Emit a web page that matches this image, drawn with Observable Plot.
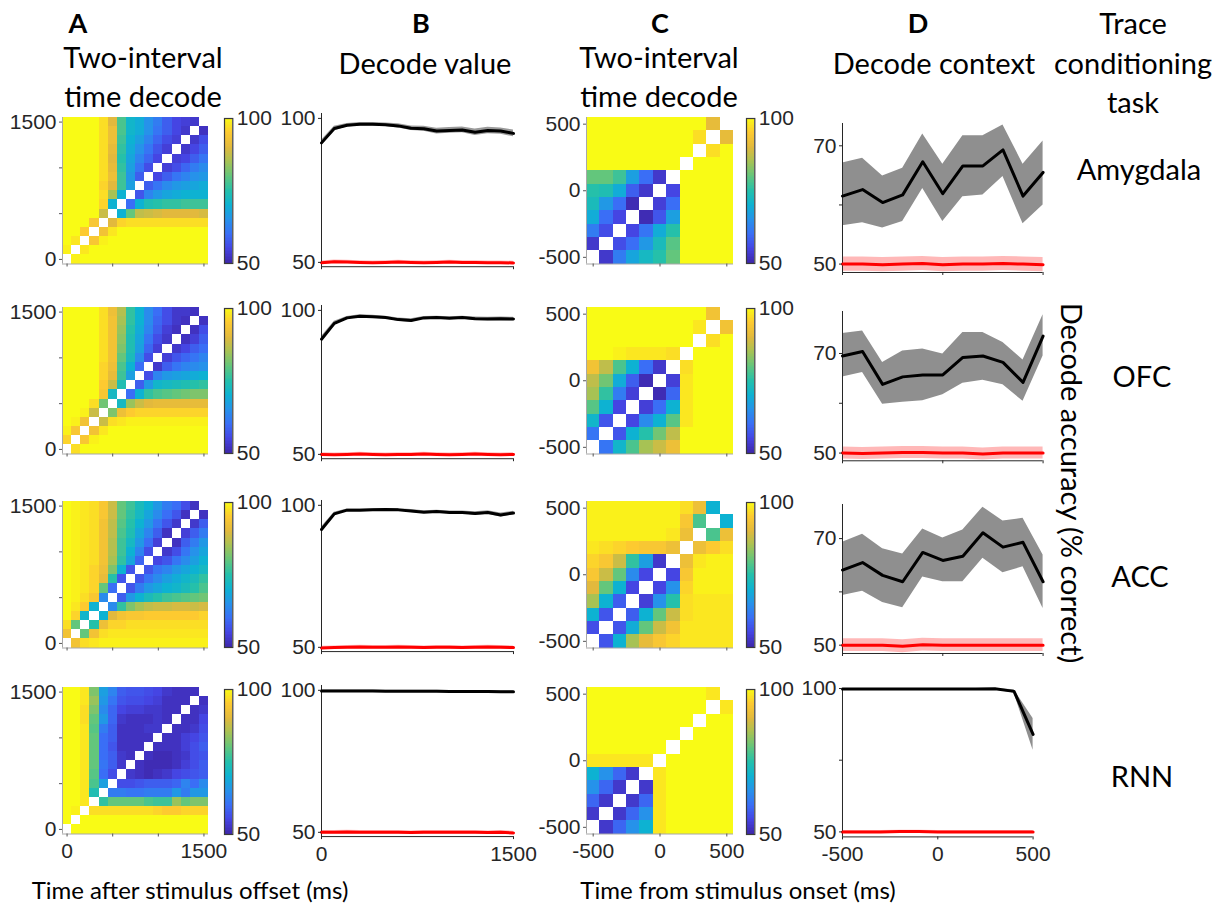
<!DOCTYPE html>
<html>
<head>
<meta charset="utf-8">
<script src="https://cdn.jsdelivr.net/npm/d3@7"></script>
<script src="https://cdn.jsdelivr.net/npm/@observablehq/plot@0.6"></script>
<style>
  html, body { margin: 0; padding: 0; background: #fff; }
  #fig { position: relative; width: 1225px; height: 907px; overflow: hidden; background: #fff; }
  .txt { position: absolute; white-space: nowrap; font-family: Lato, "Open Sans", sans-serif; font-size: 29px; color: #000; transform: translate(-50%, -50%); line-height: 1; }
  .letter { font-weight: bold; font-size: 27px; }
  .small { font-size: 24px; }
  .vert { transform: translate(-50%, -50%) rotate(90deg); }
</style>
</head>
<body>
<div id="fig"></div>
<script>
// ---------------------------------------------------------------- data
const regions = ["Amygdala", "OFC", "ACC", "RNN"];

// time bins (ms)
const timeOffset = [0, 100, 200, 300, 400, 500, 600, 700, 800, 900, 1000, 1100, 1200, 1300, 1400, 1500];
const timeOnset = [-500, -400, -300, -200, -100, 0, 100, 200, 300, 400, 500];

// Two-interval decoding after stimulus offset (% correct); rows run from 1500 ms (top) to 0 ms (bottom),
// columns from 0 ms to 1500 ms; null marks the diagonal (same interval).
const offsetAmygdala = [
  [100,100,100,100,97,90,78,71,69,65,62,58,55,54,53,null],
  [100,100,100,100,97,92,78,71,69,65,61,58,55,53,null,52],
  [100,100,100,100,97,92,77,70,67,63,59,56,54,null,53,56],
  [100,100,100,100,97,91,76,69,65,61,57,54,null,53,55,58],
  [100,100,100,100,97,90,75,68,63,59,55,null,54,55,58,61],
  [100,100,100,100,97,91,76,67,61,56,null,54,56,59,62,64],
  [100,100,100,100,97,92,77,66,58,null,55,58,61,63,65,66],
  [100,100,100,100,96,90,77,67,null,58,61,64,66,67,68,69],
  [100,100,100,100,97,85,70,null,57,63,66,68,69,70,70,70],
  [100,100,100,100,96,70,null,60,70,74,75,76,76,77,77,77],
  [100,100,100,100,88,null,70,80,87,88,89,90,90,90,90,89],
  [100,100,100,94,null,90,96,97,97,97,97,97,97,97,97,97],
  [100,100,95,null,93,98,100,100,100,100,100,100,100,100,100,100],
  [100,98,null,94,99,100,100,100,100,100,100,100,100,100,100,100],
  [99,null,98,100,100,100,100,100,100,100,100,100,100,100,100,100],
  [null,99,100,100,100,100,100,100,100,100,100,100,100,100,100,100]
];
const offsetOFC = [
  [100,100,100,100,97,92,86,76,70,64,60,56,53,53,52,null],
  [100,100,100,100,97,93,85,76,70,64,59,56,53,52,null,52],
  [100,100,100,100,97,93,84,75,69,63,58,54,52,null,52,56],
  [100,100,100,100,97,93,83,74,68,61,56,53,null,52,54,58],
  [100,100,100,100,97,93,82,74,67,59,54,null,53,55,58,60],
  [100,100,100,100,97,93,80,73,64,56,null,54,57,59,61,63],
  [100,100,100,100,96,92,78,70,60,null,53,58,61,63,64,65],
  [100,100,100,100,96,91,77,67,null,56,63,66,67,68,69,70],
  [100,100,100,100,95,88,74,null,58,66,71,72,73,74,75,76],
  [100,100,100,100,94,72,null,60,70,76,78,79,80,81,82,82],
  [100,100,100,97,81,null,72,84,88,90,91,91,91,91,91,91],
  [100,100,99,88,null,82,92,95,96,96,96,96,96,96,96,96],
  [100,99,93,null,88,97,98,99,99,99,99,99,99,99,99,99],
  [99,94,null,93,98,100,100,100,100,100,100,100,100,100,100,100],
  [96,null,94,99,100,100,100,100,100,100,100,100,100,100,100,100],
  [null,97,100,100,100,100,100,100,100,100,100,100,100,100,100,100]
];
const offsetACC = [
  [100,99,98,97,94,88,80,77,73,70,66,62,60,56,52,null],
  [100,99,98,97,94,88,80,76,72,68,64,60,57,52,null,52],
  [100,99,98,97,93,87,79,75,70,66,61,57,53,null,53,58],
  [100,99,98,97,93,87,78,74,68,63,58,52,null,54,58,62],
  [100,99,98,97,93,86,77,72,66,60,54,null,52,58,62,66],
  [100,99,98,97,93,86,77,70,63,56,null,53,56,61,65,68],
  [100,99,98,97,93,85,76,68,59,null,55,57,61,64,67,70],
  [100,99,98,96,92,82,70,57,null,57,61,63,66,68,70,72],
  [100,99,98,96,91,75,57,null,57,61,64,67,69,71,73,76],
  [100,99,98,96,80,60,null,57,62,66,68,70,71,73,75,78],
  [100,99,97,94,64,null,58,66,70,73,75,77,78,79,80,81],
  [100,98,95,70,null,64,76,82,85,87,88,88,89,89,88,89],
  [100,96,71,null,70,90,93,94,94,95,95,95,95,95,95,96],
  [97,80,null,75,92,96,96,97,97,97,97,97,97,97,97,97],
  [93,null,80,93,97,98,98,98,98,98,98,98,98,98,98,98],
  [null,93,97,98,99,99,99,99,99,99,99,99,99,99,99,99]
];
const offsetRNN = [
  [100,100,98,82,67,63,58,57,57,56,55,53,52,52,52,null],
  [100,100,98,84,66,61,57,56,56,55,54,52,52,52,null,52],
  [100,100,97,82,64,59,55,54,54,53,53,52,52,null,52,53],
  [100,100,97,80,66,59,53,52,52,52,53,52,null,52,52,55],
  [100,100,98,79,62,58,52,52,52,53,53,null,52,52,53,56],
  [100,100,98,80,60,58,52,52,52,52,null,52,52,54,55,57],
  [100,100,98,80,60,57,52,52,52,null,52,52,52,54,56,58],
  [100,100,98,80,60,58,53,52,null,52,51,51,52,53,56,57],
  [100,100,98,80,61,58,53,null,52,51,51,51,52,54,56,58],
  [100,100,98,79,60,56,null,53,52,51,52,53,55,56,57,58],
  [100,100,98,78,67,null,56,56,57,58,58,58,59,63,60,64],
  [100,100,98,74,null,62,62,61,61,62,62,62,66,62,66,66],
  [100,100,98,null,76,80,80,80,80,78,77,77,84,80,82,82],
  [100,99,null,97,97,97,97,97,97,97,96,95,95,96,96,96],
  [100,null,100,100,100,100,100,100,100,100,100,100,100,100,100,100],
  [null,100,100,100,100,100,100,100,100,100,100,100,100,100,100,100]
];

// Two-interval decoding around stimulus onset; rows from 500 ms (top) to -500 ms (bottom).
const onsetAmygdala = [
  [100,100,100,100,100,100,100,100,100,91,null],
  [100,100,100,100,100,100,100,100,97,null,91],
  [100,100,100,100,100,100,100,100,null,97,100],
  [100,100,100,100,100,100,100,null,100,100,100],
  [80,80,77,67,60,53,null,100,100,100,100],
  [75,74,69,58,53,null,55,100,100,100,100],
  [73,66,60,51,null,54,60,100,100,100,100],
  [69,60,55,null,51,57,67,100,100,100,100],
  [62,56,null,55,61,69,75,100,100,100,100],
  [53,null,56,60,66,73,79,100,100,100,100],
  [null,53,62,68,72,75,80,100,100,100,100]
];
const onsetOFC = [
  [100,100,100,100,100,100,100,100,100,93,null],
  [100,100,100,100,100,100,100,100,98,null,93],
  [100,100,100,100,100,100,100,100,null,97,100],
  [100,100,99,98,98,98,97,null,100,100,100],
  [93,87,78,70,60,53,null,97,100,100,100],
  [87,81,69,58,51,null,54,98,100,100,100],
  [85,76,62,54,null,51,59,98,100,100,100],
  [79,70,55,null,54,60,70,98,100,100,100],
  [71,57,null,55,64,70,79,98,100,100,100],
  [61,null,57,70,75,81,87,100,100,100,100],
  [null,61,71,78,85,88,92,100,100,100,100]
];
const onsetACC = [
  [99,99,99,99,99,99,99,97,92,70,null],
  [99,99,99,99,99,99,99,94,78,null,70],
  [99,99,99,99,99,99,98,92,null,78,92],
  [98,97,96,95,94,94,92,null,92,95,97],
  [96,94,88,76,67,53,null,92,98,99,99],
  [94,88,80,64,55,null,55,94,99,99,99],
  [90,80,70,55,null,55,65,96,99,99,99],
  [85,70,58,null,54,65,75,97,98,98,98],
  [70,57,null,58,70,80,88,97,98,98,98],
  [56,null,57,69,80,88,93,98,98,98,98],
  [null,57,70,85,91,94,96,98,98,98,98]
];
const onsetRNN = [
  [100,100,100,100,100,100,100,100,100,98,null],
  [100,100,100,100,100,100,100,100,100,null,98],
  [100,100,100,100,100,100,100,100,null,100,100],
  [100,100,100,100,100,100,100,null,100,100,100],
  [100,100,100,100,100,100,null,100,100,100,100],
  [98,98,98,98,98,null,100,100,100,100,100],
  [70,65,59,53,null,98,100,100,100,100,100],
  [65,59,53,null,53,98,100,100,100,100,100],
  [59,53,null,53,59,98,100,100,100,100,100],
  [53,null,53,59,65,98,100,100,100,100,100],
  [null,53,59,65,70,98,100,100,100,100,100]
];

// Value decoding after stimulus offset: mean, s.e.m. and shuffled (chance) level
const valueMeanAmygdala = [91.5, 96.5, 97.6, 98.0, 98.0, 97.8, 97.4, 96.6, 96.4, 95.6, 95.8, 96.0, 95.2, 95.8, 95.6, 94.8];
const valueSemAmygdala  = [0.9, 0.8, 0.6, 0.6, 0.6, 0.6, 0.7, 0.8, 0.9, 1.0, 1.0, 1.0, 1.1, 1.1, 1.1, 1.2];
const valueChanceAmygdala = [49.9, 50.2, 50.1, 50.0, 49.9, 50.0, 50.1, 50.0, 49.9, 50.0, 50.1, 50.0, 50.0, 49.9, 49.9, 49.8];
const valueMeanOFC = [90.0, 95.5, 97.4, 98.0, 97.8, 97.5, 96.8, 96.5, 97.4, 97.5, 97.3, 97.5, 97.1, 97.0, 97.1, 97.0];
const valueSemOFC  = [0.9, 0.7, 0.5, 0.5, 0.5, 0.5, 0.6, 0.6, 0.5, 0.5, 0.5, 0.5, 0.6, 0.6, 0.6, 0.6];
const valueChanceOFC = [50.0, 49.9, 50.0, 50.1, 50.0, 49.9, 50.0, 50.0, 50.1, 50.0, 49.9, 50.0, 50.1, 50.0, 49.9, 50.0];
const valueMeanACC = [91.5, 97.0, 98.3, 98.3, 98.4, 98.5, 98.4, 98.0, 97.6, 97.8, 97.5, 97.5, 97.1, 97.5, 96.6, 97.3];
const valueSemACC  = [0.9, 0.6, 0.4, 0.4, 0.4, 0.4, 0.4, 0.5, 0.5, 0.5, 0.5, 0.5, 0.6, 0.6, 0.7, 0.6];
const valueChanceACC = [49.8, 49.9, 50.0, 50.1, 50.0, 50.0, 50.1, 50.0, 49.9, 50.0, 50.0, 49.9, 50.0, 50.1, 50.0, 49.9];
const valueMeanRNN = [99.8, 99.8, 99.8, 99.8, 99.8, 99.7, 99.7, 99.7, 99.7, 99.7, 99.6, 99.6, 99.6, 99.6, 99.5, 99.5];
const valueSemRNN  = [0.3, 0.3, 0.3, 0.3, 0.3, 0.3, 0.3, 0.3, 0.3, 0.3, 0.3, 0.3, 0.3, 0.3, 0.3, 0.3];
const valueChanceRNN = [50.0, 50.0, 50.1, 50.0, 50.0, 50.0, 50.0, 49.9, 50.0, 50.0, 50.0, 50.0, 50.0, 49.9, 50.0, 49.8];

// Context decoding around stimulus onset: mean with lower/upper band and chance level
const contextMeanAmygdala = [61.5, 62.6, 60.4, 61.7, 67.3, 61.9, 66.6, 66.6, 69.3, 61.5, 65.5];
const contextLowAmygdala  = [56.5, 57.0, 56.1, 57.2, 62.8, 57.2, 61.4, 61.7, 64.8, 56.8, 60.0];
const contextHighAmygdala = [67.1, 67.9, 64.9, 66.2, 72.0, 66.9, 71.7, 71.7, 73.5, 66.9, 70.8];
const contextChanceAmygdala = [50.0, 50.0, 49.9, 50.0, 50.1, 49.9, 50.0, 50.0, 50.1, 50.0, 49.9];
const contextMeanOFC = [69.5, 70.4, 63.8, 65.3, 65.7, 65.7, 69.2, 69.5, 68.2, 64.2, 73.5];
const contextLowOFC  = [65.3, 66.2, 59.8, 60.2, 60.5, 61.7, 64.0, 64.6, 63.7, 60.4, 69.5];
const contextHighOFC = [74.0, 74.5, 68.2, 70.5, 70.9, 69.9, 74.2, 74.2, 72.2, 68.7, 77.8];
const contextChanceOFC = [50.0, 49.9, 50.0, 50.1, 50.1, 50.0, 50.0, 49.8, 50.0, 50.0, 50.0];
const contextMeanACC = [64.1, 65.5, 63.1, 61.9, 67.4, 65.9, 66.7, 71.1, 68.4, 69.3, 61.9];
const contextLowACC  = [59.3, 60.1, 58.0, 57.0, 62.8, 61.9, 61.9, 66.3, 63.6, 64.7, 56.9];
const contextHighACC = [69.3, 70.8, 68.1, 67.1, 71.8, 70.1, 71.6, 75.9, 73.3, 73.8, 66.9];
const contextChanceACC = [50.0, 50.0, 50.0, 49.8, 50.1, 50.0, 50.0, 50.0, 50.0, 50.0, 50.0];
const contextMeanRNN = [99.8, 99.8, 99.8, 99.8, 99.8, 99.8, 99.8, 99.8, 99.9, 99.0, 84.0];
const contextLowRNN  = [99.4, 99.4, 99.4, 99.4, 99.4, 99.4, 99.4, 99.4, 99.5, 98.4, 78.5];
const contextHighRNN = [100, 100, 100, 100, 100, 100, 100, 100, 100, 99.6, 89.5];
const contextChanceRNN = [50.0, 50.0, 50.0, 50.1, 50.1, 50.0, 50.0, 50.0, 50.0, 50.0, 50.0];

// ---------------------------------------------------------------- drawing helpers
const fig = document.getElementById("fig");
const tickFont = "'Liberation Sans', Arial, sans-serif";
const tickColor = "#262626";
// parula-like colour map, evenly spaced stops from 50 % to 100 %
const parula = d3.piecewise(d3.interpolateRgb,
  ["#3e26a8", "#4545e3", "#3a6ef6", "#2692ea", "#0db2d2", "#25c0aa",
   "#63c67c", "#a7c254", "#e2b93d", "#fdca30", "#f9fb15"]);
const colorScale = {type: "linear", domain: [50, 100], interpolate: parula, clamp: true};
const baseStyle = {background: "transparent", overflow: "visible", fontFamily: tickFont, fontSize: "21px", color: tickColor};
const fmt = (labels) => (d) => labels.includes(d) ? String(d) : "";

function mount(node, left, top) {
  node.style.position = "absolute";
  node.style.left = left + "px";
  node.style.top = top + "px";
  node.style.maxWidth = "none";
  fig.appendChild(node);
}

function heatmap(matrix, times, step, box, yLabels, xLabels) {
  const n = times.length, h = step / 2;
  const cells = [];
  matrix.forEach((row, i) => row.forEach((v, j) => {
    if (v != null) cells.push({tx: times[j], ty: times[n - 1 - i], v});
  }));
  const m = {l: 70, r: 10, t: 10, b: 40};
  const lo = times[0] - h, hi = times[n - 1] + h;
  const svg = Plot.plot({
    width: box.w + m.l + m.r, height: box.h + m.t + m.b,
    marginLeft: m.l, marginRight: m.r, marginTop: m.t, marginBottom: m.b,
    style: baseStyle,
    x: {domain: [lo, hi]},
    y: {domain: [lo, hi]},
    color: colorScale,
    marks: [
      Plot.rect(cells, {x1: d => d.tx - h, x2: d => d.tx + h, y1: d => d.ty - h, y2: d => d.ty + h,
        fill: "v", shapeRendering: "crispEdges"}),
      Plot.ruleX([lo], {stroke: "#a8a8a8", strokeWidth: 1}),
      Plot.ruleY([lo], {stroke: "#a8a8a8", strokeWidth: 1}),
      Plot.axisY({ticks: box.yTicks, tickFormat: fmt(yLabels), tickSize: 3, tickPadding: 3, label: null, stroke: "#555"}),
      Plot.axisX({ticks: box.xTicks, tickFormat: fmt(xLabels), tickSize: 3, tickPadding: 6, label: null, stroke: "#555"})
    ]
  });
  mount(svg, box.x - m.l, box.y - m.t);
}

function colorbar(box) {
  const m = {l: 2, r: 50, t: 10, b: 10};
  const samples = d3.range(50, 100, 0.5);
  const svg = Plot.plot({
    width: box.w + m.l + m.r, height: box.h + m.t + m.b,
    marginLeft: m.l, marginRight: m.r, marginTop: m.t, marginBottom: m.b,
    style: baseStyle,
    x: {domain: [0, 1], axis: null},
    y: {domain: [50, 100]},
    color: colorScale,
    marks: [
      Plot.rect(samples, {x1: () => 0, x2: () => 1, y1: d => d, y2: d => d + 0.5, fill: d => d + 0.25, shapeRendering: "crispEdges"}),
      Plot.frame({stroke: "#3a3a3a", strokeWidth: 1.2}),
      Plot.axisY({anchor: "right", ticks: [50, 100], tickFormat: d => String(d), tickSize: 0, tickPadding: 4, label: null})
    ]
  });
  mount(svg, box.x - m.l, box.y - m.t);
}

function tracePanel(rows, box, opts) {
  const m = {l: 70, r: 10, t: 10, b: 40};
  const svg = Plot.plot({
    width: box.w + m.l + m.r, height: box.h + m.t + m.b,
    marginLeft: m.l, marginRight: m.r, marginTop: m.t, marginBottom: m.b,
    style: baseStyle,
    x: {domain: opts.xDomain},
    y: {domain: opts.yDomain},
    marks: [
      Plot.areaY(rows, {x: "t", y1: "lo", y2: "hi", fill: opts.bandFill}),
      Plot.areaY(rows, {x: "t", y1: d => d.chance - opts.chanceBand, y2: d => d.chance + opts.chanceBand, fill: "#ff0000", fillOpacity: 0.28}),
      Plot.ruleX([opts.xDomain[0]], {stroke: tickColor, strokeWidth: 1}),
      Plot.ruleY([opts.yDomain[0]], {stroke: tickColor, strokeWidth: 1}),
      Plot.line(rows, {x: "t", y: "chance", stroke: "#ff0000", strokeWidth: 3}),
      Plot.line(rows, {x: "t", y: "mean", stroke: "#000", strokeWidth: opts.lineWidth}),
      Plot.axisY({ticks: opts.yTicks, tickFormat: fmt(opts.yLabels), tickSize: 3, tickPadding: 3, label: null}),
      Plot.axisX({ticks: opts.xTicks, tickFormat: fmt(opts.xLabels), tickSize: 3, tickPadding: 6, label: null})
    ]
  });
  mount(svg, box.x - m.l, box.y - m.t);
}

// ---------------------------------------------------------------- layout
const heatTops = [116.7, 306.7, 500.5, 687];
const offsetSets = [offsetAmygdala, offsetOFC, offsetACC, offsetRNN];
const onsetSets = [onsetAmygdala, onsetOFC, onsetACC, onsetRNN];

heatTops.forEach((top, r) => {
  const last = r === 3;
  heatmap(offsetSets[r], timeOffset, 100,
    {x: 62, y: top, w: 146, h: 146.5, yTicks: [0, 500, 1000, 1500], xTicks: [0, 500, 1000, 1500]},
    [0, 1500], last ? [0, 1500] : []);
  colorbar({x: 224, y: top + 1.5, w: 8.3, h: 145});
  heatmap(onsetSets[r], timeOnset, 100,
    {x: 585.7, y: top, w: 147, h: 146.5, yTicks: [-500, 0, 500], xTicks: [-500, 0, 500]},
    [-500, 0, 500], last ? [-500, 0, 500] : []);
  colorbar({x: 745.7, y: top + 1.5, w: 8.3, h: 145});
});

// value decoding traces
const valueSets = [
  [valueMeanAmygdala, valueSemAmygdala, valueChanceAmygdala],
  [valueMeanOFC, valueSemOFC, valueChanceOFC],
  [valueMeanACC, valueSemACC, valueChanceACC],
  [valueMeanRNN, valueSemRNN, valueChanceRNN]
];
const valueBoxes = [
  {top100: 118, bottom50: 262},
  {top100: 310, bottom50: 454},
  {top100: 505, bottom50: 647},
  {top100: 690, bottom50: 832}
];
valueSets.forEach(([mean, sem, chance], r) => {
  const b = valueBoxes[r];
  const ppu = (b.bottom50 - b.top100) / 50;
  const yMin = 48.5, yMax = 101.7;
  const rows = timeOffset.map((t, i) => ({t, mean: mean[i], lo: mean[i] - sem[i], hi: Math.min(100.4, mean[i] + sem[i]), chance: chance[i]}));
  tracePanel(rows,
    {x: 321, y: b.top100 - (yMax - 100) * ppu, w: 192, h: (yMax - yMin) * ppu},
    {xDomain: [0, 1500], yDomain: [yMin, yMax], bandFill: "#9a9a9a", chanceBand: 0.6, lineWidth: 3,
     yTicks: [50, 100], yLabels: [50, 100], xTicks: [0, 1500], xLabels: r === 3 ? [0, 1500] : []});
});

// context decoding traces
const contextSets = [
  [contextMeanAmygdala, contextLowAmygdala, contextHighAmygdala, contextChanceAmygdala],
  [contextMeanOFC, contextLowOFC, contextHighOFC, contextChanceOFC],
  [contextMeanACC, contextLowACC, contextHighACC, contextChanceACC],
  [contextMeanRNN, contextLowRNN, contextHighRNN, contextChanceRNN]
];
const contextBoxes = [
  {top: 122.7, bottom: 271.7, yDomain: [48.58, 73.77], yTicks: [50, 60, 70], yLabels: [50, 70], right: 1042.3},
  {top: 310.7, bottom: 460, yDomain: [48.45, 78.43], yTicks: [50, 60, 70], yLabels: [50, 70], right: 1042.3},
  {top: 504.3, bottom: 653.3, yDomain: [48.44, 76.4], yTicks: [50, 60, 70], yLabels: [50, 70], right: 1042.3},
  {top: 688.3, bottom: 836.7, yDomain: [48.26, 100], yTicks: [50, 75, 100], yLabels: [50, 100], right: 1032.3}
];
contextSets.forEach(([mean, low, high, chance], r) => {
  const b = contextBoxes[r];
  const rows = timeOnset.map((t, i) => ({t, mean: mean[i], lo: low[i], hi: high[i], chance: chance[i]}));
  tracePanel(rows,
    {x: 841.7, y: b.top, w: b.right - 841.7, h: b.bottom - b.top},
    {xDomain: [-500, 500], yDomain: b.yDomain, bandFill: "#8f8f8f", chanceBand: r === 3 ? 0.5 : 1.2, lineWidth: 3,
     yTicks: b.yTicks, yLabels: b.yLabels, xTicks: [-500, 0, 500], xLabels: r === 3 ? [-500, 0, 500] : []});
});

// ---------------------------------------------------------------- text
const texts = [
  ["A", 78, 22, "letter"], ["Two-interval", 143, 56], ["time decode", 143, 95],
  ["B", 421, 22, "letter"], ["Decode value", 425, 62],
  ["C", 660, 22, "letter"], ["Two-interval", 659, 56], ["time decode", 659, 95],
  ["D", 918, 22, "letter"], ["Decode context", 934, 62],
  ["Trace", 1133, 22], ["conditioning", 1133, 62], ["task", 1133, 101],
  ["Amygdala", 1139, 168], ["OFC", 1142, 375], ["ACC", 1140, 575], ["RNN", 1142, 775],
  ["Time after stimulus offset (ms)", 190, 890, "small"], ["Time from stimulus onset (ms)", 738, 890, "small"],
  ["Decode accuracy (% correct)", 1072, 483, "vert"]
];
texts.forEach(([s, x, y, cls]) => {
  const d = document.createElement("div");
  d.className = "txt" + (cls ? " " + cls : "");
  d.textContent = s;
  d.style.left = x + "px";
  d.style.top = y + "px";
  fig.appendChild(d);
});
</script>
</body>
</html>
